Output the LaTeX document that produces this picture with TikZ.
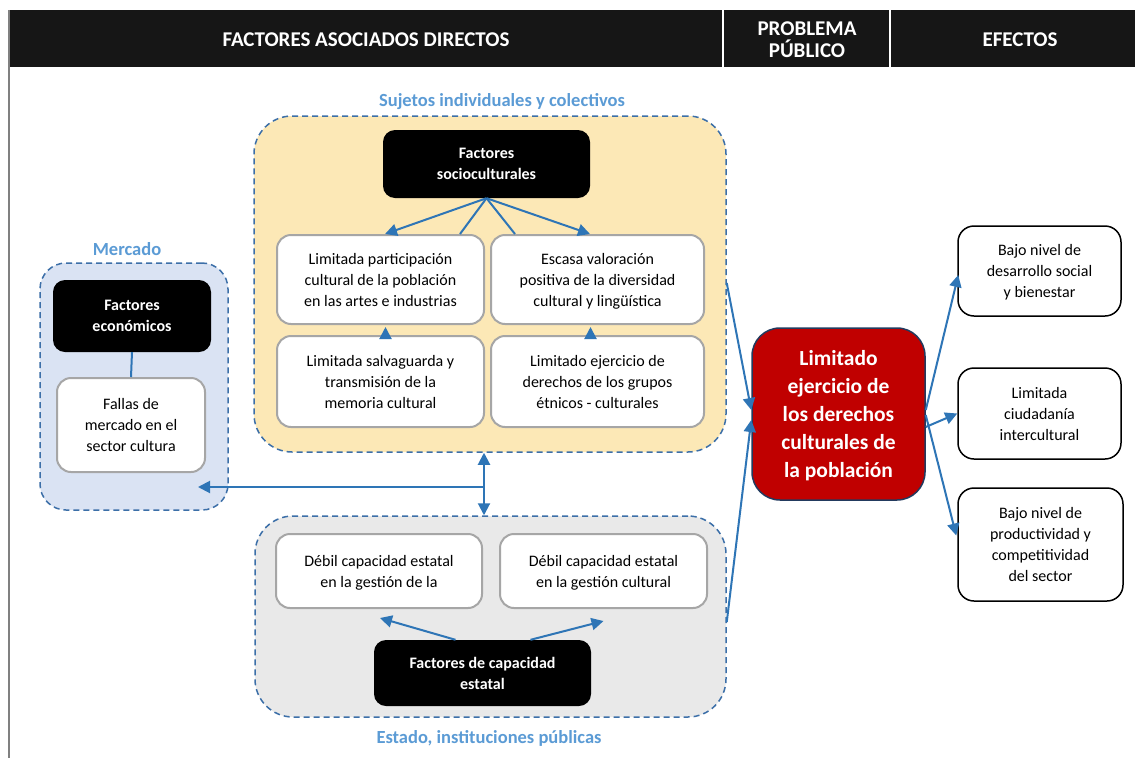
\documentclass[tikz,border=0pt]{standalone}
\usepackage{fontspec}
\setmainfont{Carlito}
\usetikzlibrary{arrows.meta,calc}
\definecolor{hdr}{HTML}{161616}
\definecolor{grpline}{HTML}{3C6FA8}
\definecolor{arrblue}{HTML}{2E75B6}
\definecolor{lblblue}{HTML}{5B9BD5}
\definecolor{boxgray}{HTML}{A6A6A6}
\definecolor{yel}{HTML}{FCE8B6}
\definecolor{lblue}{HTML}{DAE3F3}
\definecolor{lgray}{HTML}{E9E9E9}
\definecolor{redbox}{HTML}{C00000}
\definecolor{navy}{HTML}{223A5E}
\begin{document}
\begin{tikzpicture}[x=1pt,y=-1pt,
  grp/.style={draw=grpline, dash pattern=on 6pt off 4pt, line width=1.5pt, rounded corners=38pt, inner sep=0pt},
  wbox/.style={draw=boxgray, line width=2pt, fill=white, rounded corners=14pt, align=center, inner sep=0pt, text depth=-9pt, font=\fontsize{16}{21}\selectfont},
  bbox/.style={fill=black, rounded corners=12pt, text=white, align=center, inner sep=0pt, text depth=-6pt, font=\fontsize{16}{21}\selectfont\bfseries},
  ebox/.style={draw=black, line width=1.5pt, fill=white, rounded corners=16pt, align=center, inner sep=0pt, text depth=-5pt, font=\fontsize{16}{21}\selectfont},
  glabel/.style={text=lblblue, font=\fontsize{18.5}{21}\selectfont\bfseries},
  hlabel/.style={text=white, align=center, font=\fontsize{21}{22}\selectfont\bfseries},
  arr/.style={draw=arrblue, line width=2pt, -{Triangle[length=12pt,width=12pt]}},
  darr/.style={draw=arrblue, line width=2pt, {Triangle[length=12pt,width=12pt]}-{Triangle[length=12pt,width=12pt]}},
  lnk/.style={draw=arrblue, line width=2pt}
]
% canvas
\fill[white] (0,0) rectangle (1135,758);
\useasboundingbox (0,0) rectangle (1135,758);
% header
\fill[hdr] (9,10) rectangle (1135,67);
\draw[white, line width=2pt] (723,10) -- (723,67);
\draw[white, line width=2pt] (890,10) -- (890,67);
\draw[gray, line width=1.5pt] (9,10) -- (9,758);
\node[hlabel] (h1) at (366,40) {FACTORES ASOCIADOS DIRECTOS};
\node[hlabel] (h2) at (807,40) {PROBLEMA\\PÚBLICO};
\node[hlabel] (h3) at (1020,40) {EFECTOS};

% groups
\node[grp, fill=yel, minimum width=472pt, minimum height=336pt] (gy) at (490,284) {};
\node[grp, fill=lblue, rounded corners=26pt, minimum width=188pt, minimum height=247pt] (gm) at (134,386.5) {};
\node[grp, fill=lgray, minimum width=471pt, minimum height=201pt] (ge) at (490.5,616.5) {};

\node[glabel] (ly) at (502,102) {Sujetos individuales y colectivos};
\node[glabel] (lm) at (127,249) {Mercado};
\node[glabel] (le) at (489,738) {Estado, instituciones públicas};

% socioculturales
\node[bbox, minimum width=207pt, minimum height=68pt] (socio) at (486.5,164) {Factores\\socioculturales};
\node[wbox, minimum width=207pt, minimum height=89pt] (b1) at (380.5,279.5) {Limitada participación\\cultural de la población\\en las artes e industrias};
\node[wbox, minimum width=213pt, minimum height=89pt] (b2) at (597.5,279.5) {Escasa valoración\\positiva de la diversidad\\cultural y lingüística};
\node[wbox, minimum width=207pt, minimum height=91pt] (b3) at (380.5,381.5) {Limitada salvaguarda y\\transmisión de la\\memoria cultural};
\node[wbox, minimum width=213pt, minimum height=91pt] (b4) at (597.5,381.5) {Limitado ejercicio de\\derechos de los grupos\\étnicos - culturales};

% mercado
\node[bbox, minimum width=158pt, minimum height=72pt] (econ) at (132,316) {Factores\\económicos};
\node[wbox, minimum width=148pt, minimum height=94pt] (fallas) at (131,425) {Fallas de\\mercado en el\\sector cultura};

% estado
\node[wbox, minimum width=206pt, minimum height=74pt] (d1) at (379,571) {Débil capacidad estatal\\en la gestión de la};
\node[wbox, minimum width=207pt, minimum height=74pt] (d2) at (603.5,571) {Débil capacidad estatal\\en la gestión cultural};
\node[bbox, minimum width=217pt, minimum height=66pt] (cap) at (482.5,673) {Factores de capacidad\\estatal};

% problem
\node[draw=navy, line width=1.5pt, fill=redbox, rounded corners=28pt, minimum width=173pt, minimum height=172pt, inner sep=0pt,
  text=white, align=center, text depth=-6pt, font=\fontsize{21.5}{28}\selectfont\bfseries] (prob) at (838.5,414)
  {Limitado\\ejercicio de\\los derechos\\culturales de\\la población};

% effects
\node[ebox, minimum width=163pt, minimum height=90pt] (e1) at (1039.5,271) {Bajo nivel de\\desarrollo social\\y bienestar};
\node[ebox, minimum width=163pt, minimum height=91pt] (e2) at (1039.5,413.5) {Limitada\\ciudadanía\\intercultural};
\node[ebox, minimum width=165pt, minimum height=113pt] (e3) at (1040.5,544.5) {Bajo nivel de\\productividad y\\competitividad\\del sector};

% connectors socioculturales
\draw[arr] (socio.south) -- ($(b1.north)+(4.5,0)$);
\draw[arr] (socio.south) -- ($(b2.north)+(-7.5,0)$);
\draw[lnk] (socio.south) -- ($(b1.north)+(79.5,0)$);
\draw[lnk] (socio.south) -- ($(b2.north)+(-82.5,0)$);
\draw[arr] ($(b3.north)+(5,0)$) -- ($(b1.south)+(5,2)$);
\draw[arr] ($(b4.north)+(-7,0)$) -- ($(b2.south)+(-7,2)$);

% mercado
\draw[lnk] (econ.south) -- (fallas.north);
\coordinate (jn) at (484,487);
\coordinate (mend) at (198,487);
\draw[darr] (gy.south -| jn) -- (ge.north -| jn);
\draw[arr] (jn) -- (mend);

% estado
\draw[arr] ($(cap.north)+(-27,0)$) -- ($(d1.south)+(1,9)$);
\draw[arr] ($(cap.north)+(48,0)$) -- ($(d2.south)+(0,12)$);

% into problem
\draw[arr] ($(gy.east)+(0,-1)$) -- ($(prob.west)+(0,-4)$);
\draw[arr] ($(ge.east)+(0,5.5)$) -- ($(prob.west)+(0,6)$);

% effects
\draw[arr] ($(prob.east)+(0,-4)$) -- ($(e1.west)+(1,4)$);
\draw[arr] ($(prob.east)+(0,13)$) -- (e2.west);
\draw[arr] ($(prob.east)+(0,1)$) -- ($(e3.west)+(-1,-9)$);
\end{tikzpicture}
\end{document}
